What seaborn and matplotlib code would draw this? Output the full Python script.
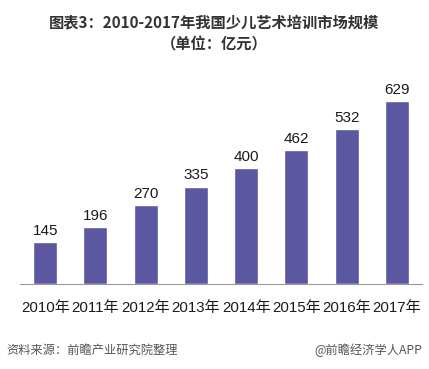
import matplotlib
matplotlib.use('Agg')
import matplotlib.pyplot as plt
import seaborn as sns
import pandas as pd

years = ['2010年', '2011年', '2012年', '2013年', '2014年', '2015年', '2016年', '2017年']
values = [145, 196, 270, 335, 400, 462, 532, 629]

sns.set_style('white')
plt.rcParams['font.family'] = ['Liberation Sans', 'Noto Sans CJK SC', 'DejaVu Sans']

df = pd.DataFrame({'year': years, 'value': values})

fig = plt.figure(figsize=(4.29, 3.69), dpi=100)
ax = fig.add_axes([20 / 429, 1 - 284 / 369, 402 / 429, 210 / 369])

sns.barplot(data=df, x='year', y='value', color='#5B57A0', width=0.48, ax=ax, saturation=1)

for i, v in enumerate(values):
    ax.text(i, v + 14, str(v), ha='center', va='bottom', fontsize=11, color='#1a1a1a')

ax.set_xlim(-0.5, 7.5)
ax.set_ylim(0, 722)
ax.set_xlabel('')
ax.set_ylabel('')
ax.set_yticks([])
ax.tick_params(axis='x', length=0, labelsize=10.8, pad=12, colors='#1a1a1a')
for s in ['top', 'right', 'left']:
    ax.spines[s].set_visible(False)
ax.spines['bottom'].set_color('#999999')
ax.spines['bottom'].set_linewidth(0.8)

title_font = ['Noto Sans CJK SC', 'DejaVu Sans']
fig.text(0.5, 1 - 22 / 369, '图表3：2010-2017年我国少儿艺术培训市场规模', ha='center', va='center',
         fontsize=11, fontweight='bold', color='#333333', family=title_font)
fig.text(0.5, 1 - 44 / 369, '（单位：亿元）', ha='center', va='center',
         fontsize=11, fontweight='bold', color='#333333', family=title_font)
fig.text(6 / 429, 1 - 350 / 369, '资料来源：前瞻产业研究院整理', ha='left', va='center',
         fontsize=8.8, style='italic', color='#555555', family=title_font)
fig.text(422 / 429, 1 - 350 / 369, '@前瞻经济学人APP', ha='right', va='center',
         fontsize=8.8, color='#555555', family=title_font)

fig.savefig('out.png', dpi=100)
